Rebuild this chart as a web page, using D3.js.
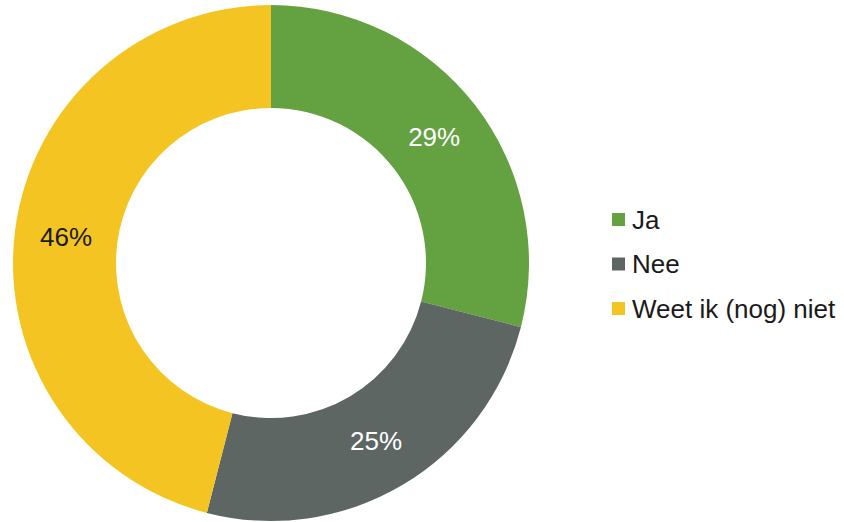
<!DOCTYPE html>
<html>
<head>
<meta charset="utf-8">
<script src="https://cdn.jsdelivr.net/npm/d3@7"></script>
<style>
  body { margin: 0; background: #fff; }
  svg { display: block; font-family: "Liberation Sans", Arial, sans-serif; }
</style>
</head>
<body>
<div id="chart"></div>
<script>
// data
const categories = ['Ja', 'Nee', 'Weet ik (nog) niet'];
const values = [29, 25, 46];
const colors = ['#63A141', '#5E6664', '#F4C522'];
const labelColors = ['#ffffff', '#ffffff', '#1a1a1a'];

const width = 844;
const height = 522;
const cx = 271;
const cy = 263;
const outerR = 258;
const innerR = 155;

const svg = d3.select('#chart').append('svg')
  .attr('width', width)
  .attr('height', height);

const color = d3.scaleOrdinal().domain(categories).range(colors);

const data = categories.map((c, i) => ({ Category: c, Value: values[i], i: i }));

const pie = d3.pie()
  .sort(null)
  .value(d => d.Value);

const arc = d3.arc()
  .innerRadius(innerR)
  .outerRadius(outerR);

const labelArc = d3.arc()
  .innerRadius((innerR + outerR) / 2)
  .outerRadius((innerR + outerR) / 2);

const donut = svg.append('g')
  .attr('class', 'donut')
  .attr('transform', `translate(${cx}, ${cy})`);

const slices = pie(data);

donut.selectAll('path.slice')
  .data(slices)
  .enter()
  .append('path')
  .attr('class', 'slice')
  .attr('d', arc)
  .style('fill', d => color(d.data.Category));

donut.selectAll('text.pct')
  .data(slices)
  .enter()
  .append('text')
  .attr('class', 'pct')
  .attr('transform', d => `translate(${labelArc.centroid(d)})`)
  .attr('text-anchor', 'middle')
  .attr('dy', '0.36em')
  .style('font-size', '26px')
  .style('fill', d => labelColors[d.data.i])
  .text(d => `${d.data.Value}%`);

// legend
const legend = svg.append('g')
  .attr('class', 'legend')
  .attr('transform', 'translate(612, 213)');

const item = legend.selectAll('g.item')
  .data(data)
  .enter()
  .append('g')
  .attr('class', 'item')
  .attr('transform', (d, i) => `translate(0, ${i * 44.5})`);

item.append('rect')
  .attr('width', 13)
  .attr('height', 13)
  .style('fill', d => color(d.Category));

item.append('text')
  .attr('x', 20)
  .attr('y', 6.5)
  .attr('dy', '0.36em')
  .style('font-size', '26px')
  .style('fill', '#1a1a1a')
  .text(d => d.Category);
</script>
</body>
</html>
